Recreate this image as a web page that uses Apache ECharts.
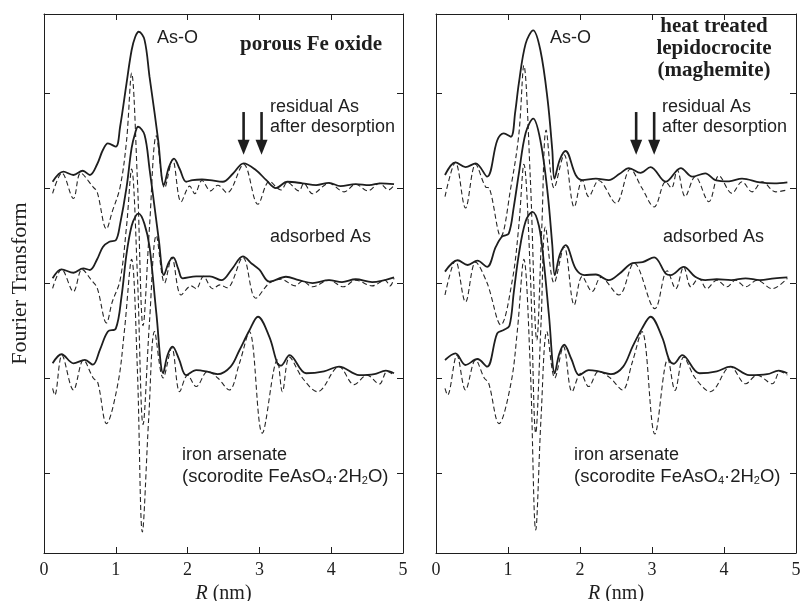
<!DOCTYPE html>
<html><head><meta charset="utf-8">
<script src="https://cdn.jsdelivr.net/npm/echarts@6/dist/echarts.min.js"></script>
<style>html,body{margin:0;padding:0;background:#fff}#c{width:802px;height:601px}</style>
</head><body><div id="c"></div>
<script>
// ---- Data: [R (nm), FT value relative to each spectrum's baseline] ----
// Left panel: porous Fe oxide
const L_RES_MAG = [[0.12,0.066],[0.27,0.172],[0.41,0.137],[0.54,0.182],[0.64,0.137],[0.74,0.25],[0.82,0.40],[0.89,0.47],[1.00,0.435],[1.06,0.645],[1.15,1.105],[1.22,1.45],[1.27,1.59],[1.32,1.645],[1.40,1.56],[1.47,1.17],[1.54,0.79],[1.59,0.505],[1.67,0.03],[1.74,0.22],[1.81,0.31],[1.89,0.20],[1.98,0.066],[2.07,0.084],[2.20,0.09],[2.31,0.084],[2.49,0.066],[2.63,0.15],[2.78,0.26],[2.95,0.19],[3.10,0.08],[3.23,0.0],[3.39,0.066],[3.60,0.05],[3.79,0.03],[3.97,0.055],[4.13,0.02],[4.34,0.042],[4.53,0.03],[4.69,0.05],[4.875,0.042]];
const L_RES_IM = [[0.12,-0.056],[0.25,0.158],[0.41,-0.11],[0.51,0.158],[0.685,0.01],[0.74,-0.04],[0.87,-0.43],[0.95,-0.25],[1.06,0.01],[1.15,0.5],[1.22,1.21],[1.30,0.10],[1.38,-1.45],[1.47,-0.40],[1.565,0.55],[1.68,0.0],[1.79,0.30],[1.91,-0.145],[2.03,0.02],[2.10,-0.06],[2.20,0.08],[2.32,-0.03],[2.42,0.03],[2.55,-0.05],[2.78,0.25],[2.98,-0.17],[3.14,0.07],[3.30,-0.02],[3.39,0.06],[3.55,-0.03],[3.62,0.05],[3.74,-0.06],[3.97,0.05],[4.18,-0.04],[4.34,0.04],[4.51,-0.03],[4.67,0.05],[4.80,-0.02],[4.875,0.03]];
const L_ADS_MAG = [[0.12,0.05],[0.245,0.144],[0.41,0.108],[0.546,0.155],[0.64,0.137],[0.74,0.25],[0.82,0.38],[0.91,0.435],[1.0,0.45],[1.06,0.62],[1.15,1.01],[1.22,1.42],[1.27,1.58],[1.31,1.645],[1.40,1.56],[1.47,1.2],[1.54,0.8],[1.60,0.45],[1.67,0.084],[1.74,0.22],[1.80,0.27],[1.87,0.15],[1.93,0.05],[2.12,0.07],[2.31,0.07],[2.47,0.03],[2.62,0.15],[2.77,0.28],[2.90,0.2],[3.0,0.14],[3.14,0.014],[3.37,0.066],[3.55,0.03],[3.74,0.0],[3.97,0.03],[4.15,0.01],[4.34,0.04],[4.57,0.01],[4.875,0.06]];
const L_ADS_IM = [[0.12,-0.056],[0.245,0.144],[0.41,-0.09],[0.53,0.144],[0.66,0.03],[0.74,-0.05],[0.87,-0.42],[0.95,-0.2],[1.06,0.03],[1.15,0.6],[1.22,1.2],[1.30,0.1],[1.38,-1.49],[1.47,-0.4],[1.565,0.5],[1.68,0.0],[1.78,0.27],[1.91,-0.126],[2.05,-0.03],[2.12,-0.06],[2.22,0.07],[2.35,-0.06],[2.45,-0.02],[2.55,-0.05],[2.77,0.27],[2.95,-0.16],[3.14,0.0],[3.30,0.04],[3.50,-0.03],[3.60,0.02],[3.74,-0.04],[3.97,0.03],[4.17,-0.04],[4.34,0.03],[4.57,-0.03],[4.75,0.03],[4.82,-0.03],[4.875,0.05]];
const L_ARS_MAG = [[0.12,0.155],[0.245,0.25],[0.41,0.155],[0.57,0.19],[0.68,0.14],[0.78,0.3],[0.89,0.49],[1.0,0.52],[1.08,0.86],[1.15,1.31],[1.22,1.6],[1.28,1.71],[1.32,1.73],[1.40,1.62],[1.47,1.38],[1.565,0.68],[1.66,0.05],[1.72,0.24],[1.79,0.33],[1.88,0.2],[1.98,0.03],[2.12,0.084],[2.26,0.07],[2.42,0.04],[2.6,0.12],[2.72,0.29],[2.86,0.5],[2.98,0.645],[3.14,0.43],[3.25,0.155],[3.30,0.13],[3.42,0.24],[3.65,0.05],[3.9,0.07],[4.11,0.12],[4.39,0.03],[4.6,0.04],[4.76,0.077],[4.875,0.05]];
const L_ARS_IM = [[0.12,-0.11],[0.15,-0.18],[0.25,0.24],[0.41,-0.126],[0.55,0.19],[0.685,0.0],[0.75,-0.05],[0.87,-0.48],[1.03,-0.056],[1.12,0.5],[1.22,1.25],[1.30,0.1],[1.37,-1.62],[1.46,-0.4],[1.54,0.49],[1.66,0.0],[1.78,0.32],[1.89,-0.144],[2.0,0.03],[2.12,-0.09],[2.28,0.07],[2.42,0.0],[2.58,-0.126],[2.72,0.15],[2.86,0.49],[3.04,-0.58],[3.25,0.19],[3.32,-0.144],[3.42,0.22],[3.6,0.0],[3.81,-0.144],[4.11,0.12],[4.32,-0.07],[4.5,0.03],[4.67,-0.063],[4.78,0.07],[4.875,0.03]];
// Right panel: heat treated lepidocrocite (maghemite)
const R_RES_MAG = [[0.125,0.137],[0.27,0.27],[0.41,0.22],[0.55,0.26],[0.71,0.12],[0.85,0.5],[0.94,0.575],[1.04,0.54],[1.10,0.8],[1.15,1.1],[1.245,1.52],[1.35,1.66],[1.45,1.45],[1.55,0.93],[1.615,0.4],[1.645,0.1],[1.72,0.3],[1.80,0.39],[1.94,0.137],[2.03,0.084],[2.22,0.1],[2.40,0.084],[2.55,0.15],[2.68,0.21],[2.84,0.16],[2.98,0.22],[3.19,0.066],[3.40,0.21],[3.56,0.12],[3.74,0.155],[3.88,0.084],[4.07,0.07],[4.25,0.1],[4.5,0.06],[4.7,0.05],[4.88,0.06]];
const R_RES_IM = [[0.125,-0.09],[0.27,0.27],[0.41,-0.21],[0.55,0.25],[0.69,0.01],[0.74,0.0],[0.90,-0.51],[1.04,0.01],[1.15,0.56],[1.22,1.29],[1.31,0.1],[1.40,-1.6],[1.47,-0.4],[1.53,0.61],[1.64,0.0],[1.78,0.35],[1.92,-0.2],[2.03,0.084],[2.12,-0.09],[2.26,0.08],[2.5,-0.16],[2.70,0.2],[2.86,0.0],[3.03,-0.2],[3.19,0.066],[3.27,0.0],[3.35,0.19],[3.46,-0.09],[3.6,0.12],[3.79,-0.144],[3.93,0.13],[4.11,-0.056],[4.25,0.066],[4.39,-0.04],[4.53,0.066],[4.72,-0.04],[4.88,-0.02]];
const R_ADS_MAG = [[0.125,0.12],[0.30,0.24],[0.44,0.19],[0.575,0.235],[0.71,0.17],[0.83,0.38],[0.92,0.49],[1.01,0.52],[1.08,0.8],[1.15,1.15],[1.245,1.58],[1.35,1.73],[1.45,1.5],[1.55,0.95],[1.615,0.4],[1.65,0.084],[1.72,0.3],[1.80,0.4],[1.94,0.15],[2.06,0.084],[2.22,0.09],[2.40,0.03],[2.55,0.1],[2.73,0.21],[2.87,0.22],[3.03,0.27],[3.19,0.1],[3.26,0.084],[3.44,0.17],[3.6,0.066],[3.74,0.03],[3.9,0.04],[4.1,0.03],[4.3,0.05],[4.5,0.03],[4.7,0.05],[4.88,0.06]];
const R_ADS_IM = [[0.125,-0.126],[0.27,0.235],[0.41,-0.2],[0.55,0.22],[0.71,0.0],[0.90,-0.44],[1.06,0.03],[1.15,0.6],[1.22,1.25],[1.31,0.1],[1.385,-1.58],[1.46,-0.4],[1.52,0.59],[1.64,0.0],[1.78,0.38],[1.92,-0.23],[2.03,0.07],[2.17,-0.09],[2.29,0.06],[2.54,-0.126],[2.75,0.21],[3.04,-0.27],[3.21,0.13],[3.33,-0.06],[3.44,0.17],[3.54,-0.04],[3.65,0.05],[3.76,-0.06],[3.9,0.03],[4.04,-0.04],[4.16,0.03],[4.3,-0.04],[4.46,0.03],[4.67,-0.06],[4.88,0.05]];
const R_ARS_MAG = [[0.125,0.19],[0.27,0.26],[0.41,0.137],[0.575,0.2],[0.71,0.12],[0.85,0.47],[0.94,0.505],[1.02,0.55],[1.08,0.9],[1.15,1.3],[1.245,1.65],[1.34,1.75],[1.43,1.6],[1.5,1.2],[1.57,0.65],[1.65,0.05],[1.71,0.25],[1.78,0.35],[1.88,0.2],[1.99,0.03],[2.12,0.084],[2.26,0.07],[2.43,0.04],[2.6,0.12],[2.73,0.33],[2.86,0.52],[2.98,0.645],[3.14,0.43],[3.24,0.19],[3.30,0.15],[3.42,0.24],[3.66,0.05],[3.9,0.07],[4.09,0.12],[4.35,0.03],[4.6,0.04],[4.76,0.077],[4.88,0.05]];
const R_ARS_IM = [[0.125,-0.11],[0.16,-0.18],[0.29,0.24],[0.41,-0.126],[0.55,0.19],[0.67,0.0],[0.73,-0.05],[0.875,-0.48],[1.04,-0.06],[1.13,0.5],[1.22,1.25],[1.31,0.1],[1.385,-1.6],[1.46,-0.4],[1.54,0.49],[1.65,0.0],[1.77,0.33],[1.89,-0.144],[2.01,0.05],[2.12,-0.09],[2.26,0.07],[2.42,0.0],[2.59,-0.126],[2.72,0.15],[2.86,0.49],[3.04,-0.59],[3.22,0.2],[3.32,-0.13],[3.44,0.22],[3.6,0.0],[3.81,-0.144],[4.09,0.12],[4.3,-0.06],[4.46,0.03],[4.67,-0.06],[4.78,0.07],[4.88,0.03]];

// Baselines (vertical offsets) of the stacked spectra
const BASE_RES = 3, BASE_ADS = 2, BASE_ARS = 1;
const Y_TICKS = [0, 1, 2, 3, 4];
const X_TICK_LABELS = ['0', '1', '2', '3', '4', '5'];
// arrows marking residual As features (R positions)
const ARROW_R = [2.78, 3.03];

const SERIF = 'Liberation Serif, Times New Roman, serif';
const SANS = 'Liberation Sans, Arial, sans-serif';
const INK = '#1e1e1e';

const chart = echarts.init(document.getElementById('c'), null, {renderer: 'canvas'});

const grids = [
  {left: 44, top: 14, width: 359, height: 539, outerBoundsMode: 'none', containLabel: false},
  {left: 436, top: 14, width: 360, height: 539, outerBoundsMode: 'none', containLabel: false}
];

function xAxes(gi) {
  return [
    {gridIndex: gi, type: 'value', min: 0, max: 5, interval: 1, position: 'bottom',
     axisLine: {onZero: false, lineStyle: {color: INK, width: 1}},
     axisTick: {inside: true, length: 6, lineStyle: {color: INK}},
     axisLabel: {fontFamily: SERIF, fontSize: 18, color: INK, margin: 8,
                 formatter: v => X_TICK_LABELS[Math.round(v)]},
     splitLine: {show: false},
     name: '{i|R} (nm)', nameLocation: 'middle', nameGap: 20,
     nameTextStyle: {fontFamily: SERIF, fontSize: 20, color: INK,
       rich: {i: {fontFamily: SERIF, fontSize: 20, fontStyle: 'italic', color: INK}}}},
    {gridIndex: gi, type: 'value', min: 0, max: 5, interval: 1, position: 'top',
     axisLine: {onZero: false, lineStyle: {color: INK, width: 1}},
     axisTick: {inside: true, length: 6, lineStyle: {color: INK}},
     axisLabel: {show: false}, splitLine: {show: false}}
  ];
}
function yAxes(gi, withName) {
  const base = {gridIndex: gi, type: 'value', min: -0.842, max: 4.832,
    axisLine: {show: true, onZero: false, lineStyle: {color: INK, width: 1}},
    axisTick: {show: true, inside: true, length: 6, customValues: Y_TICKS, lineStyle: {color: INK}},
    axisLabel: {show: false}, splitLine: {show: false}};
  const left = Object.assign({}, base, {position: 'left'});
  if (withName) Object.assign(left, {name: 'Fourier Transform', nameLocation: 'middle', nameGap: 13,
    nameTextStyle: {fontFamily: SERIF, fontSize: 22, color: INK}});
  const right = Object.assign({}, base, {position: 'right'});
  return [left, right];
}

function line(data, base, axisIdx, dashed) {
  return {
    type: 'line', xAxisIndex: axisIdx, yAxisIndex: axisIdx,
    data: data.map(p => [p[0], p[1] + base]),
    showSymbol: false, smooth: 0.35, silent: true, animation: false,
    lineStyle: dashed ? {color: '#262626', width: 1.1, type: [5, 3]} : {color: INK, width: 1.8},
    z: dashed ? 2 : 3
  };
}

const series = [
  line(L_RES_IM, BASE_RES, 0, true), line(L_ADS_IM, BASE_ADS, 0, true), line(L_ARS_IM, BASE_ARS, 0, true),
  line(L_RES_MAG, BASE_RES, 0, false), line(L_ADS_MAG, BASE_ADS, 0, false), line(L_ARS_MAG, BASE_ARS, 0, false),
  line(R_RES_IM, BASE_RES, 2, true), line(R_ADS_IM, BASE_ADS, 2, true), line(R_ARS_IM, BASE_ARS, 2, true),
  line(R_RES_MAG, BASE_RES, 2, false), line(R_ADS_MAG, BASE_ADS, 2, false), line(R_ARS_MAG, BASE_ARS, 2, false)
];

function txt(x, y, text, opts) {
  return {type: 'text', x: x, y: y, silent: true, z: 10,
    style: Object.assign({text: text, fill: INK, fontFamily: SANS, fontSize: 18,
      align: 'left', verticalAlign: 'middle'}, opts || {})};
}
const subRich = {s: {fontFamily: SANS, fontSize: 11, fill: INK, verticalAlign: 'bottom', padding: [8, 0, 0, 0]}};

const graphics = [
  // left panel
  txt(157, 38, 'As-O'),
  txt(311, 45, 'porous Fe oxide', {fontFamily: SERIF, fontWeight: 'bold', fontSize: 21, align: 'center'}),
  txt(270, 107, 'residual As'),
  txt(270, 127, 'after desorption'),
  txt(270, 237, 'adsorbed As'),
  txt(182, 455, 'iron arsenate'),
  txt(182, 477, '(scorodite FeAsO{s|4}·2H{s|2}O)', {rich: subRich, fontSize: 18.5}),
  // right panel
  txt(550, 38, 'As-O'),
  txt(714, 49, 'heat treated\nlepidocrocite\n(maghemite)', {fontFamily: SERIF, fontWeight: 'bold', fontSize: 21, align: 'center', lineHeight: 22}),
  txt(662, 107, 'residual As'),
  txt(662, 127, 'after desorption'),
  txt(663, 237, 'adsorbed As'),
  txt(574, 455, 'iron arsenate'),
  txt(574, 477, '(scorodite FeAsO{s|4}·2H{s|2}O)', {rich: subRich, fontSize: 18.5})
];

chart.setOption({
  backgroundColor: '#fff',
  animation: false,
  grid: grids,
  xAxis: xAxes(0).concat(xAxes(1)),
  yAxis: yAxes(0, true).concat(yAxes(1, false)),
  series: series,
  graphic: graphics
});

// arrows pointing down at residual As features
const ARROW_TIP = 3.35, ARROW_TAIL = 3.80;
const arrowEls = [];
[0, 1].forEach(gi => {
  ARROW_R.forEach(r => {
    const tip = chart.convertToPixel({gridIndex: gi}, [r, ARROW_TIP]);
    const tail = chart.convertToPixel({gridIndex: gi}, [r, ARROW_TAIL]);
    arrowEls.push({type: 'line', silent: true, z: 10,
      shape: {x1: tip[0], y1: tail[1], x2: tip[0], y2: tip[1] - 12},
      style: {stroke: INK, lineWidth: 2.6}});
    arrowEls.push({type: 'polygon', silent: true, z: 10,
      shape: {points: [[tip[0] - 6, tip[1] - 15], [tip[0] + 6, tip[1] - 15], [tip[0], tip[1]]]},
      style: {fill: INK}});
  });
});
chart.setOption({graphic: graphics.concat(arrowEls)});
</script></body></html>
